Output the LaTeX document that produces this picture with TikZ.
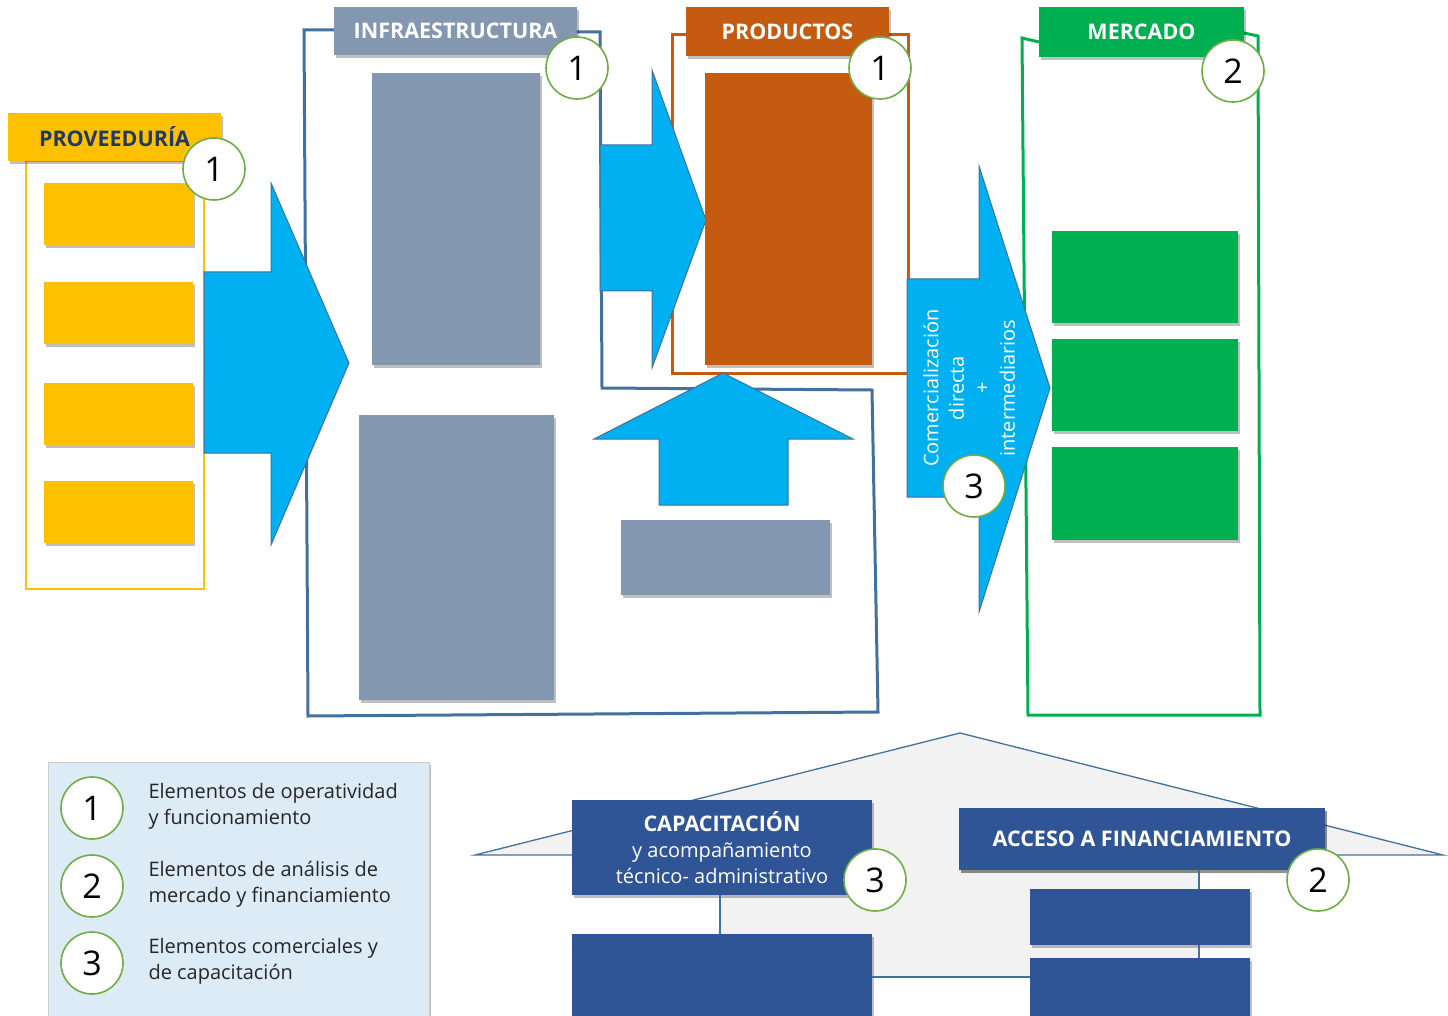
\documentclass[tikz,border=0pt]{standalone}
\usepackage{fontspec}
\setmainfont{Open Sans}
\usetikzlibrary{shadows,calc}
\definecolor{cYel}{HTML}{FFC000}
\definecolor{cArr}{HTML}{00B0F0}
\definecolor{cEdge}{HTML}{41719C}
\definecolor{cGray}{HTML}{8497B0}
\definecolor{cOra}{HTML}{C55A11}
\definecolor{cGre}{HTML}{00B050}
\definecolor{cNavy}{HTML}{2F5597}
\definecolor{cRing}{HTML}{70AD47}
\definecolor{cHdr}{HTML}{1F3864}
\definecolor{cLeg}{HTML}{DDEBF7}
\definecolor{cTxt}{HTML}{262626}
\definecolor{cHouse}{HTML}{F2F2F2}
\tikzset{
  sh/.style={drop shadow={shadow xshift=2pt,shadow yshift=-3pt,opacity=0.25,fill=black}},
  rbox/.style={rectangle,inner sep=0pt,outer sep=0pt,sh},
  hdr/.style={rbox,font=\fontsize{21.5}{24}\selectfont\bfseries,text=white},
  num/.style={circle,draw=cRing,line width=1.6pt,fill=white,minimum size=62pt,inner sep=0pt,font=\fontsize{34}{34}\selectfont,text=black},
  barrow/.style={fill=cArr,draw=cEdge,line width=1pt,line join=miter},
  legtxt/.style={anchor=west,align=left,text=cTxt,font=\fontsize{20}{26}\selectfont},
  wtxt/.style={text=white,align=center,font=\fontsize{20}{26}\selectfont},
  conn/.style={draw=cEdge,line width=1.3pt}
}
\begin{document}
\begin{tikzpicture}[x=1pt,y=-1pt]
\useasboundingbox (0,0) rectangle (1448,1016);
% ---------- frames ----------
\draw[cEdge,line width=3pt,line join=miter] (304,30) -- (334,30) -- (577,32) -- (600,32) -- (602,388) -- (872,390) -- (878,712) -- (308,716) -- cycle;
\draw[cOra,line width=3pt] (672,35) rectangle (908,373);
\draw[cGre,line width=3pt,line join=miter] (1022,38) -- (1039,42) -- (1244,33) -- (1258,36) -- (1260,715) -- (1028,715) -- cycle;
\node[rectangle,draw=cYel,line width=2pt,minimum width=178pt,minimum height=428pt,inner sep=0pt] (provframe) at (115,375) {};
% ---------- bottom house ----------
\fill[cHouse] (475,855) -- (960,733) -- (1443,855) -- (1199,855) -- (1199,977) -- (720,977) -- (720,855) -- cycle;
\draw[cEdge,line width=1.3pt] (572,855) -- (475,855) -- (960,733) -- (1443,855) -- (1325,855);
% ---------- block arrows ----------
\draw[barrow] (204,272) -- (271,272) -- (271,183) -- (349,363) -- (271,545) -- (271,453) -- (204,453) -- cycle;
\draw[barrow] (600,145) -- (652,145) -- (652,70) -- (706,220) -- (652,368) -- (652,291) -- (600,291) -- cycle;
\draw[barrow] (659,505) -- (659,439) -- (594,439) -- (723,373) -- (853,439) -- (788,439) -- (788,505) -- cycle;
\draw[barrow] (907,279) -- (979,279) -- (979,166) -- (1050,388) -- (979,612) -- (979,497) -- (907,497) -- cycle;
\node[wtxt,rotate=90,font=\fontsize{20}{25.5}\selectfont] (comtxt) at (969,388) {Comercialización\\directa\\+\\intermediarios};
% ---------- proveeduria ----------
\node[hdr,fill=cYel,text=cHdr,minimum width=213pt,minimum height=48pt] (provh) at (114.5,137) {PROVEEDURÍA};
\foreach \i/\yy in {1/214,2/313,3/414,4/512}
  \node[rbox,fill=cYel,minimum width=149pt,minimum height=62pt] (prov\i) at (118.5,\yy) {};
% ---------- infraestructura ----------
\node[hdr,fill=cGray,minimum width=243pt,minimum height=48pt] (infh) at (455.5,31) {INFRAESTRUCTURA};
\node[rbox,fill=cGray,minimum width=168pt,minimum height=292pt] (inf1) at (456,219) {};
\node[rbox,fill=cGray,minimum width=195pt,minimum height=285pt] (inf2) at (456.5,557.5) {};
\node[rbox,fill=cGray,minimum width=209pt,minimum height=75pt] (inf3) at (725.5,557.5) {};
% ---------- productos ----------
\node[hdr,fill=cOra,minimum width=203pt,minimum height=49pt] (prodh) at (787.5,31.5) {PRODUCTOS};
\node[rbox,fill=cOra,minimum width=167pt,minimum height=292pt] (prod1) at (788.5,219) {};
% ---------- mercado ----------
\node[hdr,fill=cGre,minimum width=205pt,minimum height=50pt] (merh) at (1141.5,32) {MERCADO};
\node[rbox,fill=cGre,minimum width=186pt,minimum height=92pt] (mer1) at (1145,277) {};
\node[rbox,fill=cGre,minimum width=186pt,minimum height=92pt] (mer2) at (1145,385) {};
\node[rbox,fill=cGre,minimum width=186pt,minimum height=93pt] (mer3) at (1145,493.5) {};
% ---------- bottom boxes ----------
\coordinate (vx1) at (720,0);
\coordinate (vx2) at (1199,0);
\node[rbox,fill=cNavy,minimum width=300pt,minimum height=95pt,wtxt] (cap) at (722,847.5) {{\fontsize{21.5}{26}\selectfont\bfseries CAPACITACIÓN}\\y acompañamiento\\técnico- administrativo};
\node[rbox,fill=cNavy,minimum width=300pt,minimum height=82pt] (cap2) at (722,975) {};
\node[rbox,fill=cNavy,minimum width=366pt,minimum height=62pt,hdr] (acc) at (1142,839) {ACCESO A FINANCIAMIENTO};
\node[rbox,fill=cNavy,minimum width=220pt,minimum height=56pt] (fin1) at (1140,917) {};
\node[rbox,fill=cNavy,minimum width=220pt,minimum height=58pt] (fin2) at (1140,987) {};
\draw[conn] (cap.south -| vx1) -- (cap2.north -| vx1);
\draw[conn] (acc.south -| vx2) -- (fin1.north -| vx2);
\draw[conn] (fin1.south -| vx2) -- (fin2.north -| vx2);
\draw[conn] (cap2.east |- 0,977) -- (fin2.west |- 0,977);
% ---------- legend ----------
\node[rectangle,fill=cLeg,draw=black!20,line width=0.8pt,minimum width=381pt,minimum height=254pt,inner sep=0pt,sh] (leg) at (238.5,889) {};
\node[num] (l1) at (92,808) {1};
\node[num] (l2) at (92,886) {2};
\node[num] (l3) at (92,963) {3};
\node[legtxt] (t1) at (145,806) {Elementos de operatividad\\y funcionamiento};
\node[legtxt] (t2) at (145,884) {Elementos de análisis de\\mercado y financiamiento};
\node[legtxt] (t3) at (145,961) {Elementos comerciales y\\de capacitación};
% ---------- number badges ----------
\node[num] (c1) at (214,169) {1};
\node[num] (c2) at (577,68) {1};
\node[num] (c3) at (880,68) {1};
\node[num] (c4) at (1233,71) {2};
\node[num] (c5) at (974,486) {3};
\node[num] (c6) at (875,880) {3};
\node[num] (c7) at (1318,880) {2};
\end{tikzpicture}
\end{document}
